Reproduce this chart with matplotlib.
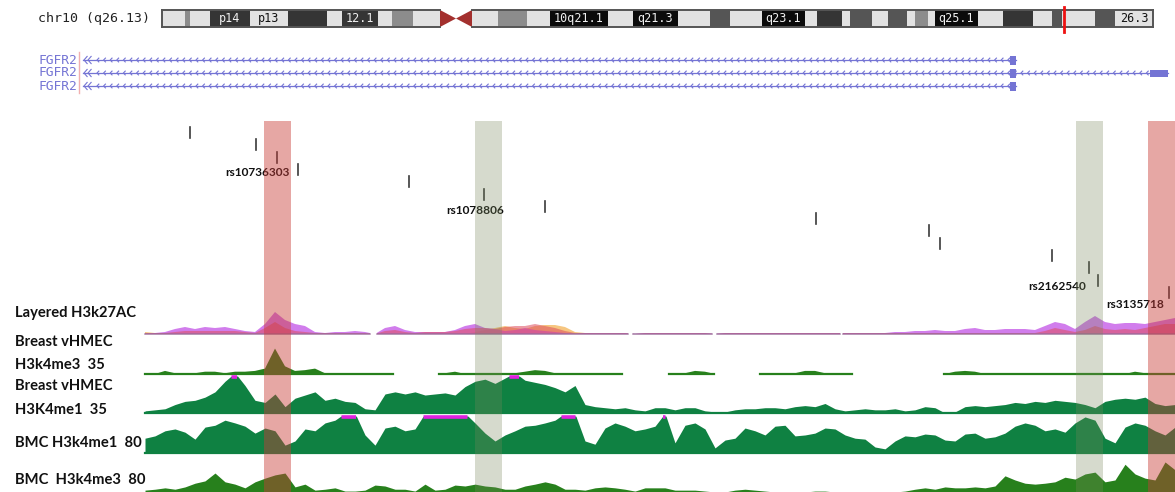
import numpy as np
import matplotlib.pyplot as plt
from matplotlib.patches import Rectangle, Polygon
from matplotlib.collections import LineCollection

# ---- chr10 ideogram: band edges (screen px), stain and name ----
band_left = [162, 185, 190, 210, 250, 288, 327, 342, 378, 392, 413,
             472, 498, 527, 550, 608, 633, 678, 710, 730, 762, 805, 817,
             842, 850, 872, 888, 907, 915, 928, 935, 978, 1003, 1033, 1052,
             1062, 1095, 1115]
band_right = band_left[1:11] + [440] + band_left[12:] + [1153]
band_stain = ['light', 'gray', 'light', 'dark', 'light', 'dark', 'light', 'dark', 'light', 'gray', 'light',
              'light', 'gray', 'light', 'black', 'light', 'black', 'light', 'dgray', 'light', 'black', 'light', 'dark',
              'light', 'dgray', 'light', 'dgray', 'light', 'gray', 'light', 'black', 'light', 'dark', 'light', 'dgray',
              'light', 'dgray', 'light']
band_name = {3: 'p14', 4: 'p13', 7: '12.1', 14: '10q21.1', 16: 'q21.3',
             20: 'q23.1', 30: 'q25.1', 37: '26.3'}
centromere = (440, 472)
view_marker = 1064

# ---- FGFR2 transcripts ----
tx_start = [83, 83, 83]
tx_end = [1016, 1168, 1016]
tx_exons = [[(1010, 1016)], [(1010, 1016), (1150, 1168)], [(1010, 1016)]]

# ---- GWAS SNPs (one per row, stacked downwards) ----
snp_pos = [190, 256, 277, 298, 409, 484, 545, 816, 929, 940, 1052, 1089, 1098, 1169]
snp_name = ['', '', 'rs10736303', '', '', 'rs1078806', '', '', '', '', '', '',
            'rs2162540', 'rs3135718']

# ---- highlighted SNP windows ----
hl_left = [264, 475, 1076, 1148]
hl_right = [291, 502, 1103, 1175]
hl_kind = ['risk', 'other', 'other', 'risk']

# ---- signal tracks, one value per 10 px bin from 145 to 1175 ----
bins = np.arange(145, 1176, 10)

h3k27ac_purple = [0, 1, 2, 5, 7, 5, 7, 6, 7, 5,
                  3, 2, 10, 22, 14, 10, 8, 2, 1, 2,
                  2, 3, 2, 0, 6, 8, 4, 2, 2, 2,
                  2, 4, 8, 10, 6, 5, 3, 4, 6, 4,
                  3, 2, 1, 0, 1, 1, 1, 1, 1, 0,
                  1, 1, 1, 1, 1, 1, 1, 0, 1, 1,
                  1, 1, 1, 1, 1, 1, 1, 1, 1, 1,
                  1, 1, 1, 1, 1, 2, 2, 3, 3, 4,
                  3, 3, 5, 6, 4, 4, 5, 5, 5, 4,
                  8, 12, 10, 5, 12, 18, 12, 10, 11, 11,
                  10, 12, 14, 16]
h3k27ac_red = [1, 1, 1, 2, 3, 3, 3, 3, 3, 3,
               2, 1, 6, 12, 6, 3, 2, 1, 1, 1,
               1, 1, 1, 0, 3, 4, 2, 1, 2, 2,
               2, 3, 5, 6, 6, 5, 7, 8, 8, 10,
               8, 6, 3, 1, 1, 1, 1, 1, 1, 0,
               1, 1, 1, 1, 1, 1, 1, 0, 1, 1,
               1, 1, 1, 1, 1, 1, 1, 1, 1, 1,
               1, 1, 1, 1, 1, 1, 1, 1, 1, 1,
               1, 1, 1, 1, 1, 1, 1, 1, 1, 1,
               3, 6, 4, 2, 4, 8, 5, 4, 5, 4,
               6, 8, 10, 10]
h3k27ac_yellow = [2, 1, 1, 0, 0, 0, 0, 0, 0, 0,
                  0, 0, 0, 0, 0, 0, 0, 0, 0, 0,
                  0, 0, 0, 0, 0, 0, 0, 0, 0, 0,
                  0, 0, 0, 2, 4, 6, 8, 6, 5, 8,
                  9, 9, 7, 2, 1, 0, 0, 0, 0, 0,
                  0, 0, 0, 0, 0, 0, 0, 0, 0, 0,
                  0, 0, 0, 0, 0, 0, 0, 0, 0, 0,
                  0, 0, 0, 0, 0, 0, 0, 0, 0, 0,
                  0, 0, 0, 0, 0, 0, 0, 0, 0, 0,
                  0, 0, 0, 0, 0, 0, 0, 0, 0, 0,
                  0, 0, 0, 0]
h3k27ac_gaps = [(370, 377), (628, 633), (712, 717), (840, 843)]

vhmec_me3 = [0, 0, 4, 1, 0, 1, 3, 3, 1, 3,
             3, 4, 7, 33, 10, 4, 5, 7, 1, 0,
             1, 1, 1, 1, 0, 0, 0, 0, 0, 0,
             1, 3, 0, 1, 1, 1, 1, 1, 3, 5,
             4, 1, 0, 0, 0, 0, 1, 1, 0, 0,
             0, 0, 0, 0, 1, 4, 3, 0, 0, 0,
             0, 0, 0, 0, 0, 1, 4, 4, 1, 0,
             0, 0, 0, 0, 0, 0, 0, 0, 0, 0,
             0, 3, 4, 3, 0, 0, 0, 1, 0, 0,
             0, 0, 0, 0, 1, 0, 1, 0, 0, 3,
             1, 0, 0, 0]
vhmec_me3_gaps = [(393, 439), (622, 669), (714, 760), (852, 944)]

vhmec_me1 = [2, 3, 4, 8, 11, 12, 15, 20, 30, 38,
             26, 12, 10, 18, 6, 14, 17, 20, 12, 14,
             11, 10, 4, 3, 18, 20, 18, 20, 17, 18,
             19, 17, 25, 30, 32, 28, 33, 38, 31, 29,
             27, 24, 20, 26, 8, 6, 5, 4, 5, 3,
             2, 5, 5, 3, 5, 5, 2, 1, 1, 3,
             4, 4, 5, 5, 4, 6, 7, 6, 9, 4,
             2, 3, 4, 3, 3, 4, 2, 3, 6, 5,
             0, 1, 6, 7, 6, 7, 8, 10, 9, 11,
             10, 12, 11, 10, 8, 5, 11, 13, 14, 13,
             15, 9, 7, 8]

bmc_me1 = [32, 37, 48, 52, 45, 30, 56, 60, 71, 65,
           58, 43, 54, 48, 17, 26, 52, 48, 65, 71,
           86, 86, 39, 17, 54, 58, 48, 52, 86, 88,
           86, 87, 86, 65, 43, 26, 39, 48, 58, 60,
           65, 71, 86, 85, 26, 19, 54, 65, 58, 48,
           52, 58, 86, 22, 60, 65, 52, 11, 28, 32,
           54, 48, 39, 58, 60, 37, 39, 43, 54, 52,
           39, 32, 30, 13, 9, 26, 37, 35, 41, 39,
           28, 26, 41, 43, 32, 35, 43, 58, 65, 60,
           48, 52, 45, 65, 78, 71, 32, 22, 56, 65,
           60, 48, 39, 56]

bmc_me3 = [4, 6, 9, 6, 11, 19, 24, 41, 22, 17,
           9, 22, 30, 37, 41, 11, 17, 4, 6, 9,
           2, 2, 4, 15, 13, 6, 6, 2, 17, 4,
           6, 15, 13, 17, 13, 11, 6, 6, 13, 17,
           22, 17, 6, 6, 4, 9, 11, 9, 6, 2,
           9, 9, 9, 4, 4, 4, 2, 0, 0, 4,
           6, 4, 2, 0, 0, 0, 0, 2, 2, 0,
           0, 0, 0, 0, 0, 0, 2, 6, 9, 6,
           11, 9, 9, 11, 9, 13, 35, 26, 19, 17,
           19, 22, 32, 28, 39, 43, 22, 26, 60, 39,
           30, 26, 65, 48]

track_labels = [("Layered H3k27AC", 313), ("Breast vHMEC", 342), ("H3k4me3  35", 365),
                ("Breast vHMEC", 386), ("H3K4me1  35", 410), ("BMC H3k4me1  80", 443),
                ("BMC  H3k4me3  80", 480)]

stain_color = {'light': '#e2e2e2', 'gray': '#8c8c8c', 'dgray': '#555555',
               'dark': '#353535', 'black': '#0b0b0b'}
gene_color = '#7474d4'
me1_green = '#0f8142'
me3_green = '#27801c'

fig = plt.figure(figsize=(11.75, 4.92), dpi=100)
ax = fig.add_axes([0, 0, 1, 1])
ax.set_xlim(0, 1175)
ax.set_ylim(492, 0)
ax.axis('off')

# --- ideogram ---
ax.text(38, 18.5, "chr10 (q26.13)", family='DejaVu Sans Mono', fontsize=9.5,
        va='center', ha='left', color='#222222')
for i, (a, b, s) in enumerate(zip(band_left, band_right, band_stain)):
    ax.add_patch(Rectangle((a, 10), b - a, 17, facecolor=stain_color[s], edgecolor='none'))
    if i in band_name:
        tc = '#111111' if s == 'light' else '#f0f0f0'
        ax.text((a + b) / 2, 18.8, band_name[i], family='DejaVu Sans Mono', fontsize=8.5,
                ha='center', va='center', color=tc)
c0, c1 = centromere
cm = (c0 + c1) / 2
ax.add_patch(Rectangle((c0, 9), c1 - c0, 19, facecolor='white', edgecolor='none'))
ax.add_patch(Polygon([(c0, 10), (c0, 27), (cm, 18.5)], facecolor='#a3302e', edgecolor='none'))
ax.add_patch(Polygon([(c1, 10), (c1, 27), (cm, 18.5)], facecolor='#a3302e', edgecolor='none'))
ax.plot([band_left[0], c0], [10, 10], color='#555555', lw=1.4)
ax.plot([band_left[0], c0], [27, 27], color='#555555', lw=1.4)
ax.plot([c1, band_right[-1]], [10, 10], color='#555555', lw=1.4)
ax.plot([c1, band_right[-1]], [27, 27], color='#555555', lw=1.4)
ax.plot([band_left[0]] * 2, [10, 27], color='#555555', lw=1.4)
ax.plot([band_right[-1]] * 2, [10, 27], color='#555555', lw=1.4)
ax.plot([view_marker] * 2, [7, 32], color='#ee1111', lw=2)

# --- gene models ---
ax.plot([79, 79], [52, 93], color='#f2b0b0', lw=1)
for row, (s, e, exons) in enumerate(zip(tx_start, tx_end, tx_exons)):
    y = 60 + row * 13
    ax.text(38, y, "FGFR2", family='DejaVu Sans Mono', fontsize=9.3, va='center',
            ha='left', color=gene_color)
    ax.plot([s, e], [y, y], color=gene_color, lw=0.9)
    segs = []
    for x in np.arange(s + 14, e - 6, 6.6):
        segs.append([(x + 2.2, y - 2.3), (x, y), (x + 2.2, y + 2.3)])
    for x in (s + 1, s + 5):
        segs.append([(x + 3.5, y - 4), (x, y), (x + 3.5, y + 4)])
    ax.add_collection(LineCollection(segs, colors=gene_color, lw=0.8))
    for a, b in exons:
        hh = 9 if b - a < 10 else 7
        ax.add_patch(Rectangle((a, y - hh / 2), b - a, hh, facecolor=gene_color, edgecolor='none'))

# --- SNP staircase ---
for row, (x, name) in enumerate(zip(snp_pos, snp_name)):
    y0 = 127 + row * 12.3
    ax.plot([x, x], [y0, y0 + 11], color='#3a3a3a', lw=1.2)

label_xy = {'rs10736303': (257, 172), 'rs1078806': (475, 211),
            'rs2162540': (1057, 287), 'rs3135718': (1135, 305)}
for name, (lx, ly) in label_xy.items():
    ax.text(lx, ly, name, family='Lato', weight='bold', fontsize=8.6,
            ha='center', va='center', color='#111111')

# --- signal tracks ---
xf = np.arange(145, 1175.01, 0.5)


def coverage(gaps):
    m = np.ones_like(xf, dtype=bool)
    for a, b in gaps:
        m &= ~((xf > a) & (xf < b))
    return m


def draw_track(vals, base, height, vmax, color, gaps=(), line=True):
    v = np.interp(xf, bins, vals)
    m = coverage(gaps)
    h = np.minimum(v, vmax) / vmax * height
    ax.fill_between(xf, base, base - h, where=m, color=color, lw=0)
    if line:
        ax.plot(xf, np.where(m, base, np.nan), color=color, lw=1.6)
    top = np.where(m & (v > vmax), base - height, np.nan)
    ax.plot(xf, top + 1, color='#e020e0', lw=2.6, solid_capstyle='butt')


# layered acetylation track
m27 = coverage(h3k27ac_gaps)
for vals, col, al in [(h3k27ac_yellow, '#f4b860', 0.8),
                      (h3k27ac_purple, '#c65ce8', 0.8),
                      (h3k27ac_red, '#dd4c5c', 0.55)]:
    h = np.interp(xf, bins, vals)
    ax.fill_between(xf, 334, 334 - h, where=m27, color=col, alpha=al, lw=0)
ax.plot(xf, np.where(m27, 334, np.nan), color='#9a6a9a', lw=1.0)

draw_track(vhmec_me3, 374, 27, 35, me3_green, gaps=vhmec_me3_gaps)
draw_track(vhmec_me1, 413, 37, 35, me1_green)
draw_track(bmc_me1, 453, 37, 80, me1_green)
draw_track(bmc_me3, 492, 37, 80, me3_green, line=False)

# --- highlight windows over everything below the ruler ---
for a, b, k in zip(hl_left, hl_right, hl_kind):
    if k == 'risk':
        ax.add_patch(Rectangle((a, 121), b - a, 380, facecolor='#c83c37',
                               alpha=0.45, edgecolor='none', zorder=5))
    else:
        ax.add_patch(Rectangle((a, 121), b - a, 380, facecolor='#78875a',
                               alpha=0.3, edgecolor='none', zorder=5))

# --- track labels ---
for text, y in track_labels:
    ax.text(15, y, text, family='Lato', weight='bold', fontsize=10.6,
            ha='left', va='center', color='#111111', zorder=6)

fig.savefig('out.png', dpi=100)
